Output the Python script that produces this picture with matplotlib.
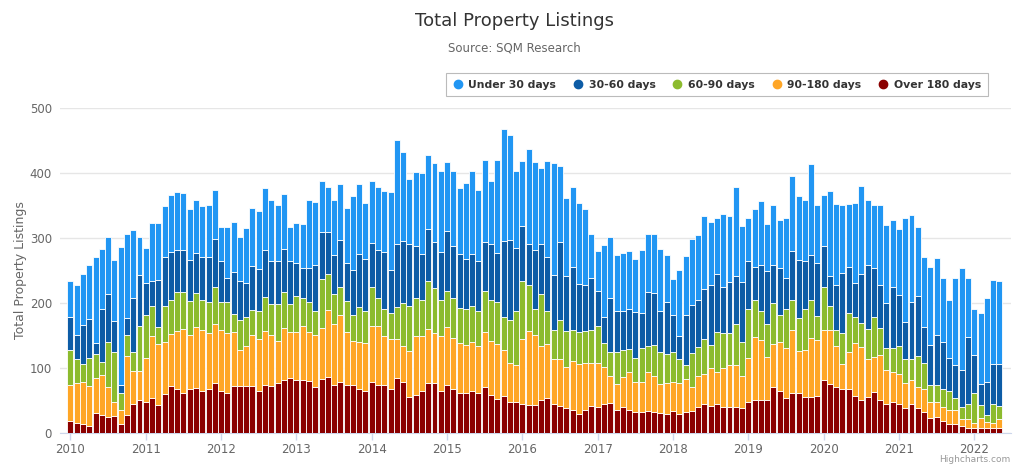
import numpy as np
import matplotlib.pyplot as plt
from matplotlib.lines import Line2D

# monthly, Jan 2010 .. May 2022
years = ['2010', '2011', '2012', '2013', '2014', '2015', '2016',
         '2017', '2018', '2019', '2020', '2021', '2022']

under_30 = [55, 78, 79, 84, 132, 93, 88, 94, 212, 129, 105, 59,
            54, 89, 88, 79, 88, 88, 87, 79, 81, 79, 80, 74,
            51, 78, 77, 69, 84, 89, 90, 95, 93, 85, 84, 51,
            61, 68, 104, 96, 79, 70, 85, 86, 84, 113, 108, 85,
            95, 97, 93, 119, 161, 137, 100, 115, 125, 113, 121, 124,
            105, 115, 101, 117, 128, 108, 127, 97, 144, 172, 162, 118,
            101, 146, 135, 116, 149, 172, 117, 121, 124, 125, 116, 67,
            61, 111, 94, 85, 90, 90, 81, 96, 89, 91, 95, 71,
            55, 101, 90, 102, 101, 112, 97, 87, 111, 101, 136, 86,
            67, 89, 97, 73, 92, 73, 93, 115, 98, 94, 139, 88,
            78, 131, 124, 104, 97, 122, 136, 100, 97, 122, 120, 102,
            101, 160, 133, 105, 108, 120, 118, 98, 89, 133, 156, 90,
            71, 109, 129, 129, 128]
d30_60 = [50, 36, 60, 60, 18, 81, 74, 48, 13, 26, 83, 78,
          49, 39, 72, 75, 73, 66, 66, 63, 62, 65, 68, 75,
          63, 36, 65, 59, 53, 68, 64, 72, 66, 66, 67, 66,
          52, 46, 52, 71, 72, 64, 59, 72, 59, 70, 81, 80,
          68, 73, 88, 66, 96, 95, 95, 80, 70, 81, 71, 74,
          92, 81, 83, 77, 80, 77, 75, 86, 75, 117, 123, 97,
          85, 63, 90, 77, 83, 85, 119, 84, 97, 74, 71, 80,
          55, 40, 84, 63, 59, 61, 71, 54, 83, 80, 64, 81,
          58, 35, 77, 74, 72, 78, 92, 89, 71, 78, 75, 92,
          73, 50, 71, 81, 58, 73, 47, 75, 90, 75, 69, 82,
          63, 46, 70, 92, 70, 53, 75, 99, 75, 67, 69, 95,
          79, 58, 89, 93, 55, 62, 77, 72, 52, 51, 57, 103,
          59, 32, 51, 62, 65]
d60_90 = [54, 37, 28, 43, 36, 20, 69, 77, 26, 33, 29, 69,
          67, 46, 26, 55, 53, 60, 56, 52, 52, 46, 48, 56,
          44, 49, 28, 46, 45, 38, 43, 52, 49, 57, 55, 44,
          55, 44, 47, 37, 76, 56, 46, 44, 48, 40, 54, 50,
          60, 44, 42, 40, 50, 66, 69, 58, 56, 73, 69, 56,
          56, 61, 54, 56, 55, 55, 63, 64, 64, 50, 66, 84,
          89, 71, 41, 81, 50, 44, 60, 55, 47, 49, 49, 51,
          56, 37, 37, 50, 42, 35, 37, 53, 40, 48, 49, 44,
          46, 37, 22, 53, 45, 53, 36, 61, 54, 50, 62, 52,
          76, 57, 45, 51, 63, 41, 61, 47, 50, 63, 59, 37,
          67, 37, 25, 48, 61, 40, 37, 46, 61, 41, 34, 36,
          42, 36, 31, 47, 41, 26, 27, 28, 29, 18, 19, 24,
          45, 20, 11, 29, 19]
d90_180 = [55, 61, 65, 61, 54, 61, 46, 21, 21, 91, 50, 45,
           67, 95, 94, 80, 80, 89, 99, 84, 94, 95, 86, 91,
           94, 92, 83, 56, 61, 79, 80, 83, 78, 65, 80, 71,
           74, 83, 75, 81, 78, 103, 94, 103, 81, 67, 73, 73,
           86, 90, 76, 77, 60, 56, 70, 91, 85, 83, 77, 85,
           89, 79, 76, 74, 76, 72, 85, 83, 85, 71, 61, 57,
           99, 114, 107, 82, 83, 69, 72, 64, 75, 77, 73, 66,
           68, 57, 41, 39, 46, 58, 46, 46, 61, 55, 44, 48,
           45, 48, 51, 37, 47, 47, 59, 49, 60, 64, 65, 50,
           68, 97, 92, 66, 66, 76, 76, 97, 65, 72, 91, 86,
           77, 83, 62, 39, 57, 81, 81, 59, 54, 69, 52, 47,
           47, 39, 38, 33, 35, 24, 23, 22, 21, 22, 11, 14,
           8, 16, 10, 8, 15]
over_180 = [19, 16, 13, 11, 31, 28, 25, 26, 14, 27, 45, 51,
            48, 54, 43, 60, 72, 67, 61, 67, 69, 64, 68, 77,
            64, 61, 72, 72, 72, 72, 65, 74, 72, 77, 81, 84,
            81, 81, 80, 70, 83, 86, 74, 78, 74, 74, 67, 65,
            78, 74, 73, 68, 84, 78, 56, 58, 64, 77, 77, 64,
            74, 67, 62, 61, 64, 61, 70, 58, 52, 57, 47, 47,
            45, 43, 43, 51, 54, 45, 42, 38, 36, 29, 35, 42,
            40, 44, 46, 36, 40, 36, 32, 32, 33, 32, 31, 29,
            33, 29, 32, 33, 40, 44, 41, 45, 40, 40, 40, 38,
            47, 51, 51, 51, 71, 64, 54, 61, 61, 55, 55, 57,
            81, 75, 71, 67, 67, 57, 51, 55, 63, 51, 45, 47,
            44, 38, 44, 38, 32, 23, 24, 18, 14, 14, 10, 7,
            8, 7, 7, 7, 7]

labels = ['Under 30 days', '30-60 days', '60-90 days', '90-180 days', 'Over 180 days']
colors = ['#2196f3', '#0d5ca6', '#8cbb2e', '#ffa626', '#8b0000']

fig = plt.figure(figsize=(10.24, 4.67), dpi=100)
ax = fig.add_axes([0.059, 0.073, 0.928, 0.696])

x = np.arange(len(under_30))
series = [over_180, d90_180, d60_90, d30_60, under_30]
bottom = np.zeros(len(x))
for vals, col in zip(series, colors[::-1]):
    ax.bar(x, vals, bottom=bottom, width=0.95, color=col,
           edgecolor='white', linewidth=0.6, zorder=3)
    bottom = bottom + np.array(vals)

ax.set_xlim(-1.6, len(x) + 0.8)
ax.set_ylim(0, 500)
ax.set_yticks(range(0, 501, 100))
ax.grid(axis='y', color='#e6e6e6', linewidth=1, zorder=0)
ax.set_xticks(np.arange(len(years)) * 12)
ax.set_xticklabels(years)
ax.tick_params(axis='x', colors='#ccd6eb', length=5, width=1, labelcolor='#666666',
               labelsize=8.5, pad=2)
ax.tick_params(axis='y', length=0, labelcolor='#666666', labelsize=8.5, pad=6)
for s in ['top', 'right', 'left']:
    ax.spines[s].set_visible(False)
ax.spines['bottom'].set_color('#ccd6eb')
ax.set_ylabel('Total Property Listings', color='#666666', fontsize=9, va='center')
ax.yaxis.set_label_coords(-0.042, 0.5)

fig.text(0.502, 0.955, 'Total Property Listings', ha='center', va='center',
         fontsize=13, color='#333333')
fig.text(0.502, 0.897, 'Source: SQM Research', ha='center', va='center',
         fontsize=8.5, color='#666666')

handles = [Line2D([], [], marker='o', linestyle='', markersize=6, color=c) for c in colors]
leg = fig.legend(handles, labels, ncol=5, loc='center', bbox_to_anchor=(0.7, 0.818),
                 frameon=True, fancybox=False, edgecolor='#aaaaaa', handlelength=1.0,
                 handletextpad=0.5, columnspacing=1.5, borderpad=0.6,
                 prop={'size': 7.8, 'weight': 'bold'})
leg.get_frame().set_linewidth(0.8)
for t in leg.get_texts():
    t.set_color('#333333')

fig.text(0.987, 0.015, 'Highcharts.com', ha='right', va='center', fontsize=6.5, color='#999999')

fig.savefig('out.png', dpi=100)
